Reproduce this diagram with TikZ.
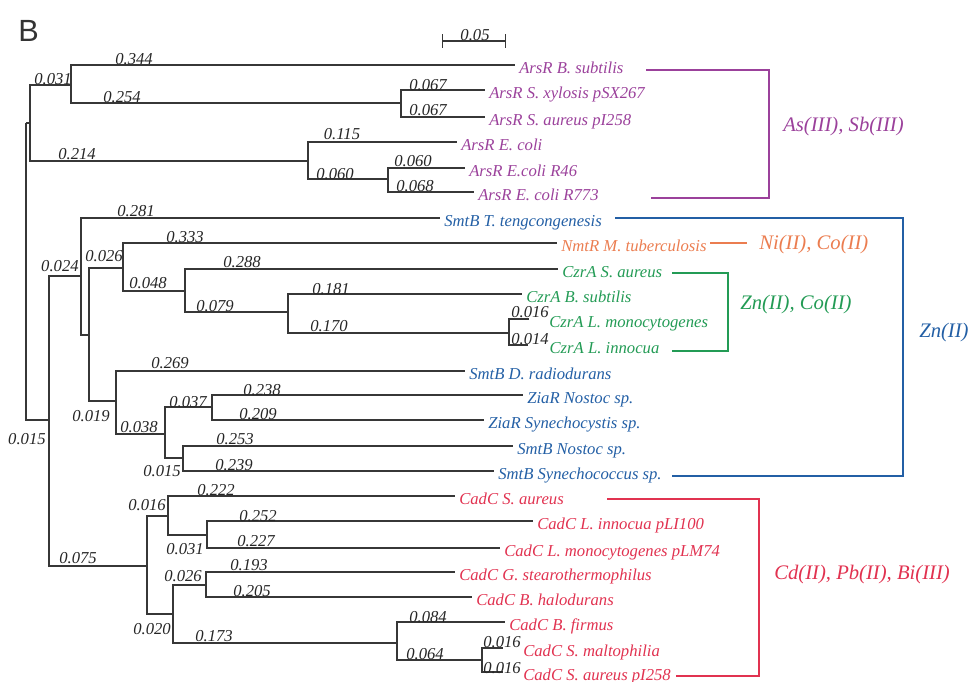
\documentclass[tikz,border=0pt]{standalone}
\usepackage{fontspec}
\setmainfont{Liberation Serif}
\newfontfamily\panelfont{Liberation Sans}
\usetikzlibrary{positioning,arrows.meta}
\definecolor{arscol}{RGB}{155,65,155}
\definecolor{zncol}{RGB}{35,95,165}
\definecolor{nicol}{RGB}{235,125,80}
\definecolor{cocol}{RGB}{35,155,85}
\definecolor{cdcol}{RGB}{225,50,80}
\definecolor{treecol}{RGB}{55,55,55}

\begin{document}
\begin{tikzpicture}[
    x=0.75pt, y=-0.75pt,
    br/.style={draw=treecol, line width=0.9pt},
    bl/.style={inner sep=0pt, text=black!85, font=\itshape\fontsize{12.5}{12.5}\selectfont},
    leaf/.style={anchor=west, inner xsep=3pt, inner ysep=0pt, text height=12pt, text depth=0pt, font=\itshape\fontsize{12.5}{12.5}\selectfont},
    grp/.style={line width=1.4pt},
    grplbl/.style={anchor=west, inner sep=0pt, font=\itshape\fontsize{15.5}{15.5}\selectfont}
]
\useasboundingbox (0,0) rectangle (968,682);
\node[font=\panelfont\fontsize{23}{23}\selectfont, text=black!80, inner sep=0pt] (panel) at (28.5,31) {B};

% scale bar
\coordinate (sb-l) at (442,41);
\coordinate (sb-r) at (506,41);
\draw[br, {Bar[width=10pt]}-{Bar[width=10pt]}] (sb-l) -- (sb-r);
\node[bl] (sb) at (475,35) {0.05};

% inner nodes of the tree
\coordinate (root) at (26,123);
\coordinate (ars) at (30,123);
\coordinate (a1) at (71,85);
\coordinate (a3) at (401,103);
\coordinate (a2) at (308,161);
\coordinate (a4) at (388,179);
\coordinate (zc) at (49,420);
\coordinate (zn) at (81,276);
\coordinate (z1) at (89,335);
\coordinate (z2) at (123,268);
\coordinate (z3) at (185,291);
\coordinate (z4) at (288,312);
\coordinate (z9) at (509,333);
\coordinate (z5) at (116,401);
\coordinate (z6) at (165,434);
\coordinate (z7) at (212,407);
\coordinate (z8) at (183,458);
\coordinate (cad) at (147,566);
\coordinate (c1) at (168,516);
\coordinate (c2) at (207,535);
\coordinate (c3) at (173,614);
\coordinate (c4) at (206,585);
\coordinate (c5) at (397,643);
\coordinate (c6) at (482,660);

% ArsR leaves
\node[leaf, text=arscol] (bsub) at (515,65) {ArsR B. subtilis};
\node[leaf, text=arscol] (xyl) at (485,90) {ArsR S. xylosis pSX267};
\node[leaf, text=arscol] (sau) at (485,117) {ArsR S. aureus pI258};
\node[leaf, text=arscol] (eco) at (457,142) {ArsR E. coli};
\node[leaf, text=arscol] (r46) at (465,168) {ArsR E.coli R46};
\node[leaf, text=arscol] (r773) at (474,192) {ArsR E. coli R773};

% SmtB / NmtR / CzrA / ZiaR leaves
\node[leaf, text=zncol] (teng) at (440,218) {SmtB T. tengcongenesis};
\node[leaf, text=nicol] (nmtr) at (557,243) {NmtR M. tuberculosis};
\node[leaf, text=cocol] (czsa) at (558,269) {CzrA S. aureus};
\node[leaf, text=cocol] (czbs) at (522,294) {CzrA B. subtilis};
\coordinate (t-czlm) at (529,319);
\coordinate (t-czli) at (528,345);
\node[leaf, text=cocol, right=12pt of t-czlm] (czlm) {CzrA L. monocytogenes};
\node[leaf, text=cocol, right=13pt of t-czli] (czli) {CzrA L. innocua};
\node[leaf, text=zncol] (drad) at (465,371) {SmtB D. radiodurans};
\node[leaf, text=zncol] (zns) at (523,395) {ZiaR Nostoc sp.};
\node[leaf, text=zncol] (zsy) at (484,420) {ZiaR Synechocystis sp.};
\node[leaf, text=zncol] (sns) at (513,446) {SmtB Nostoc sp.};
\node[leaf, text=zncol] (ssy) at (494,471) {SmtB Synechococcus sp.};

% CadC leaves
\node[leaf, text=cdcol] (cdsa) at (455,496) {CadC S. aureus};
\node[leaf, text=cdcol] (cdli) at (533,521) {CadC L. innocua pLI100};
\node[leaf, text=cdcol] (cdlm) at (500,548) {CadC L. monocytogenes pLM74};
\node[leaf, text=cdcol] (cdgs) at (455,572) {CadC G. stearothermophilus};
\node[leaf, text=cdcol] (cdbh) at (472,597) {CadC B. halodurans};
\node[leaf, text=cdcol] (cdbf) at (505,622) {CadC B. firmus};
\coordinate (t-cdsm) at (503,648);
\coordinate (t-cdsp) at (503,672);
\node[leaf, text=cdcol, right=12pt of t-cdsm] (cdsm) {CadC S. maltophilia};
\node[leaf, text=cdcol, right=12pt of t-cdsp] (cdsp) {CadC S. aureus pI258};

% branches
\draw[br] (root) |- (ars);
\draw[br] (root) |- (zc);
\draw[br] (ars) |- (a1);
\draw[br] (ars) |- (a2);
\draw[br] (a1) |- (bsub.west);
\draw[br] (a1) |- (a3);
\draw[br] (a3) |- (xyl.west);
\draw[br] (a3) |- (sau.west);
\draw[br] (a2) |- (eco.west);
\draw[br] (a2) |- (a4);
\draw[br] (a4) |- (r46.west);
\draw[br] (a4) |- (r773.west);

\draw[br] (zc) |- (zn);
\draw[br] (zc) |- (cad);
\draw[br] (zn) |- (teng.west);
\draw[br] (zn) |- (z1);
\draw[br] (z1) |- (z2);
\draw[br] (z1) |- (z5);
\draw[br] (z2) |- (nmtr.west);
\draw[br] (z2) |- (z3);
\draw[br] (z3) |- (czsa.west);
\draw[br] (z3) |- (z4);
\draw[br] (z4) |- (czbs.west);
\draw[br] (z4) |- (z9);
\draw[br] (z9) |- (t-czlm);
\draw[br] (z9) |- (t-czli);
\draw[br] (z5) |- (drad.west);
\draw[br] (z5) |- (z6);
\draw[br] (z6) |- (z7);
\draw[br] (z6) |- (z8);
\draw[br] (z7) |- (zns.west);
\draw[br] (z7) |- (zsy.west);
\draw[br] (z8) |- (sns.west);
\draw[br] (z8) |- (ssy.west);

\draw[br] (cad) |- (c1);
\draw[br] (cad) |- (c3);
\draw[br] (c1) |- (cdsa.west);
\draw[br] (c1) |- (c2);
\draw[br] (c2) |- (cdli.west);
\draw[br] (c2) |- (cdlm.west);
\draw[br] (c3) |- (c4);
\draw[br] (c3) |- (c5);
\draw[br] (c4) |- (cdgs.west);
\draw[br] (c4) |- (cdbh.west);
\draw[br] (c5) |- (cdbf.west);
\draw[br] (c5) |- (c6);
\draw[br] (c6) |- (t-cdsm);
\draw[br] (c6) |- (t-cdsp);

% branch lengths
\node[bl] (l-a1) at (53,79) {0.031};
\node[bl] (l-bsub) at (134,59) {0.344};
\node[bl] (l-a3) at (122,97) {0.254};
\node[bl] (l-xyl) at (428,85) {0.067};
\node[bl] (l-sau) at (428,110) {0.067};
\node[bl] (l-a2) at (77,154) {0.214};
\node[bl] (l-eco) at (342,134) {0.115};
\node[bl] (l-a4) at (335,174) {0.060};
\node[bl] (l-r46) at (413,161) {0.060};
\node[bl] (l-r773) at (415,186) {0.068};

\node[bl] (l-zc) at (27,439) {0.015};
\node[bl] (l-zn) at (60,266) {0.024};
\node[bl] (l-teng) at (136,211) {0.281};
\node[bl] (l-z2) at (104,256) {0.026};
\node[bl] (l-nmtr) at (185,237) {0.333};
\node[bl] (l-z3) at (148,283) {0.048};
\node[bl] (l-czsa) at (242,262) {0.288};
\node[bl] (l-z4) at (215,306) {0.079};
\node[bl] (l-czbs) at (331,289) {0.181};
\node[bl] (l-z9) at (329,326) {0.170};
\node[bl] (l-czlm) at (530,312) {0.016};
\node[bl] (l-czli) at (530,339) {0.014};
\node[bl] (l-z5) at (91,416) {0.019};
\node[bl] (l-drad) at (170,363) {0.269};
\node[bl] (l-z6) at (139,427) {0.038};
\node[bl] (l-z7) at (188,402) {0.037};
\node[bl] (l-zns) at (262,390) {0.238};
\node[bl] (l-zsy) at (258,414) {0.209};
\node[bl] (l-z8) at (162,471) {0.015};
\node[bl] (l-sns) at (235,439) {0.253};
\node[bl] (l-ssy) at (234,465) {0.239};

\node[bl] (l-cad) at (78,558) {0.075};
\node[bl] (l-c1) at (147,505) {0.016};
\node[bl] (l-cdsa) at (216,490) {0.222};
\node[bl] (l-c2) at (185,549) {0.031};
\node[bl] (l-cdli) at (258,516) {0.252};
\node[bl] (l-cdlm) at (256,541) {0.227};
\node[bl] (l-c3) at (152,629) {0.020};
\node[bl] (l-c4) at (183,576) {0.026};
\node[bl] (l-cdgs) at (249,565) {0.193};
\node[bl] (l-cdbh) at (252,591) {0.205};
\node[bl] (l-c5) at (214,636) {0.173};
\node[bl] (l-cdbf) at (428,617) {0.084};
\node[bl] (l-c6) at (425,654) {0.064};
\node[bl] (l-cdsm) at (502,642) {0.016};
\node[bl] (l-cdsp) at (502,668) {0.016};

% metal groups
\coordinate (ab1) at (646,70);
\coordinate (ab2) at (769,198);
\coordinate (ab3) at (651,198);
\draw[grp, arscol] (ab1) -| (ab2) -- (ab3);
\node[grplbl, text=arscol] (g-ars) at (783,127) {As(III), Sb(III)};

\coordinate (zb1) at (615,218);
\coordinate (zb2) at (903,476);
\coordinate (zb3) at (672,476);
\draw[grp, zncol] (zb1) -| (zb2) -- (zb3);
\node[grplbl, text=zncol] (g-zn) at (919,333) {Zn(II)};

\coordinate (nb1) at (710,243);
\coordinate (nb2) at (747,243);
\draw[grp, nicol] (nb1) -- (nb2);
\node[grplbl, text=nicol] (g-ni) at (759,245) {Ni(II), Co(II)};

\coordinate (cb1) at (672,273);
\coordinate (cb2) at (728,351);
\coordinate (cb3) at (672,351);
\draw[grp, cocol] (cb1) -| (cb2) -- (cb3);
\node[grplbl, text=cocol] (g-co) at (740,305) {Zn(II), Co(II)};

\coordinate (db1) at (607,499);
\coordinate (db2) at (759,676);
\coordinate (db3) at (676,676);
\draw[grp, cdcol] (db1) -| (db2) -- (db3);
\node[grplbl, text=cdcol] (g-cd) at (774,575) {Cd(II), Pb(II), Bi(III)};
\end{tikzpicture}
\end{document}
